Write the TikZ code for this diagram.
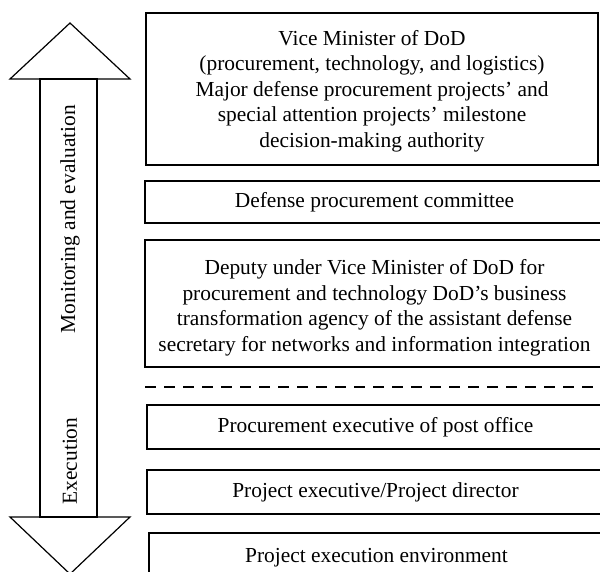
\documentclass[tikz,border=0pt]{standalone}
\usepackage{fontspec}
\setmainfont{Liberation Serif}
\begin{document}
\begin{tikzpicture}[x=1pt,y=-1pt,
  line width=1.2pt,
  textfont/.style={font=\fontsize{21.4}{25.5}\selectfont},
  orgbox/.style={draw, rectangle, inner sep=0pt, align=center, textfont},
  boxtext/.style={inner sep=0pt, align=center, textfont},
  sidelabel/.style={rotate=90, inner sep=0pt, textfont},
  divider/.style={dash pattern=on 11pt off 8pt}]
  \useasboundingbox (0,0) rectangle (600,572);
  \clip (0,0) rectangle (600,572);

  % double-headed vertical arrow
  \draw (10,79) -- (70,23) -- (130,79) -- cycle;
  \draw (40,79) rectangle (97,517);
  \draw (10,517) -- (70,574) -- (130,517) -- cycle;
  \node[sidelabel] (mon) at (70,219) {Monitoring and evaluation};
  \node[sidelabel] (exe) at (70,461) {Execution};

  % organisational levels
  \node[orgbox, minimum width=452pt, minimum height=152pt] (b1) at (372,89) {};
  \node[boxtext] (t1) at (372,91)
    {Vice Minister of DoD\\(procurement, technology, and logistics)\\
     Major defense procurement projects' and\\
     special attention projects' milestone\\decision-making authority};
  \node[orgbox, minimum width=459pt, minimum height=42pt] (b2) at (374.5,202)
    {Defense procurement committee};
  \node[orgbox, minimum width=459pt, minimum height=127pt] (b3) at (374.5,303.5) {};
  \node[boxtext] (t3) at (374.5,308)
    {Deputy under Vice Minister of DoD for\\
     procurement and technology DoD's business\\
     transformation agency of the assistant defense\\
     secretary for networks and information integration};

  \coordinate (dl) at (145,387);
  \coordinate (dr) at (600,387);
  \draw[divider] (dl) -- (dr);

  \node[orgbox, minimum width=457pt, minimum height=44pt] (b4) at (375.5,427)
    {Procurement executive of post office};
  \node[orgbox, minimum width=457pt, minimum height=44pt] (b5) at (375.5,492)
    {Project executive/Project director};
  \node[orgbox, minimum width=455pt, minimum height=50pt] (b6) at (376.5,558)
    {Project execution environment};
\end{tikzpicture}
\end{document}
